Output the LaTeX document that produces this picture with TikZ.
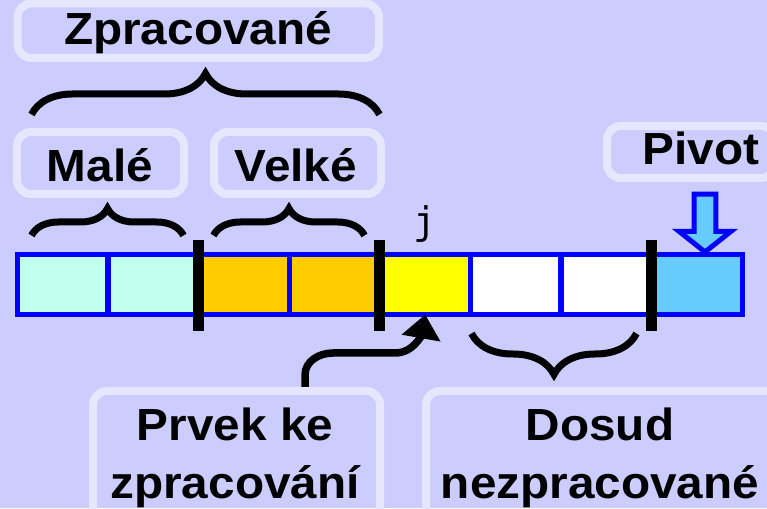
\documentclass[tikz,border=0pt]{standalone}
\usepackage{fontspec}
\newfontfamily\lblfont{Liberation Sans}[FakeStretch=1.06]
\newfontfamily\codefont{DejaVu Sans Mono}
\usetikzlibrary{arrows.meta,decorations.pathreplacing}
\definecolor{bgcol}{HTML}{CCCCFF}
\definecolor{tagline}{HTML}{E6E6FF}
\definecolor{mint}{HTML}{C0FFEE}
\definecolor{orng}{HTML}{FFCC00}
\definecolor{yell}{HTML}{FFFF00}
\definecolor{pivcol}{HTML}{66CCFF}
\tikzset{
	cell/.style={draw=blue, line width=5.5pt, minimum width=90.6pt, minimum height=60pt, inner sep=0pt, outer sep=0pt},
	tag/.style={draw=tagline, line width=8pt, rounded corners=14pt, inner sep=0pt},
	lbl/.style={font=\lblfont\bfseries\fontsize{45}{58}\selectfont, inner sep=0pt},
	bar/.style={line width=11pt},
	brc/.style={decorate, decoration={brace, amplitude=#1}, line width=7pt},
}
\begin{document}
\begin{tikzpicture}[x=1pt, y=1pt]
	
	\useasboundingbox (0,0) rectangle (767,508);
	\fill[bgcol] (0,0) rectangle (767,508);
	
	% labels in rounded frames
	\node[tag, minimum width=361.5pt, minimum height=54.5pt] (zpr) at (198.25,477.25) {};
	\node[tag, minimum width=167pt, minimum height=62pt] (male) at (100.5,345) {};
	\node[tag, minimum width=167pt, minimum height=62pt] (velke) at (297.5,345) {};
	\node[tag, minimum width=168pt, minimum height=52pt] (piv) at (691,356) {};
	\node[tag, minimum width=287pt, minimum height=157pt] (prvek) at (236.5,38.5) {};
	\node[tag, minimum width=384pt, minimum height=157pt] (dosud) at (618,38.5) {};
	\node[lbl, anchor=base] (zprtxt) at (198,463) {Zpracované};
	\node[lbl, anchor=base] (maletxt) at (100,326) {Malé};
	\node[lbl, anchor=base] (velketxt) at (296,326) {Velké};
	\node[lbl, anchor=base] (pivtxt) at (701,343) {Pivot};
	\node[lbl, anchor=base, align=center] (prvektxt) at (235,10) {Prvek ke\\zpracování};
	\node[lbl, anchor=base, align=center] (dosudtxt) at (600,10) {Dosud\\nezpracované};
	
	% the array
	\foreach \col [count=\i from 0] in {mint,mint,orng,orng,yell,white,white,pivcol}
		\node[cell, fill=\col] (c\i) at (62.8+90.6*\i, 223.5) {};
	\node[font=\codefont\fontsize{38}{40}\selectfont, anchor=base, inner sep=0pt] (jtxt) at (425,273) {j};
	\foreach \i in {1,3,6}
		\draw[bar] ([yshift=14.5pt]c\i.north east) -- ([yshift=-16.5pt]c\i.south east);
	
	% braces
	\draw[brc=41pt] (31.5,393.5) -- (379.5,393.5);
	\draw[brc=27pt] (31.5,272.5) -- (183.5,272.5);
	\draw[brc=27pt] (213.5,272.5) -- (364.5,272.5);
	\draw[brc=41pt, decoration={mirror}] (471.5,174.5) -- (636.5,174.5);
	
	% arrows
	\draw[draw=blue, fill=pivcol, line width=5pt, line join=miter] (694.2,313.8) -- (715.8,313.8) -- (715.8,276.5) -- (730.8,276.5) -- (705,256) -- (679.2,276.5) -- (694.2,276.5) -- cycle;
	\coordinate (prvektop) at ([xshift=68.5pt]prvek.north);
	\draw[line width=7.5pt, -{Triangle[length=24pt,width=38pt]}] (prvektop) -- ++(0,12) to[out=90,in=180] ++(28,22) -- (395,155) to[out=0,in=260] (c4.south);
	
\end{tikzpicture}
\end{document}
